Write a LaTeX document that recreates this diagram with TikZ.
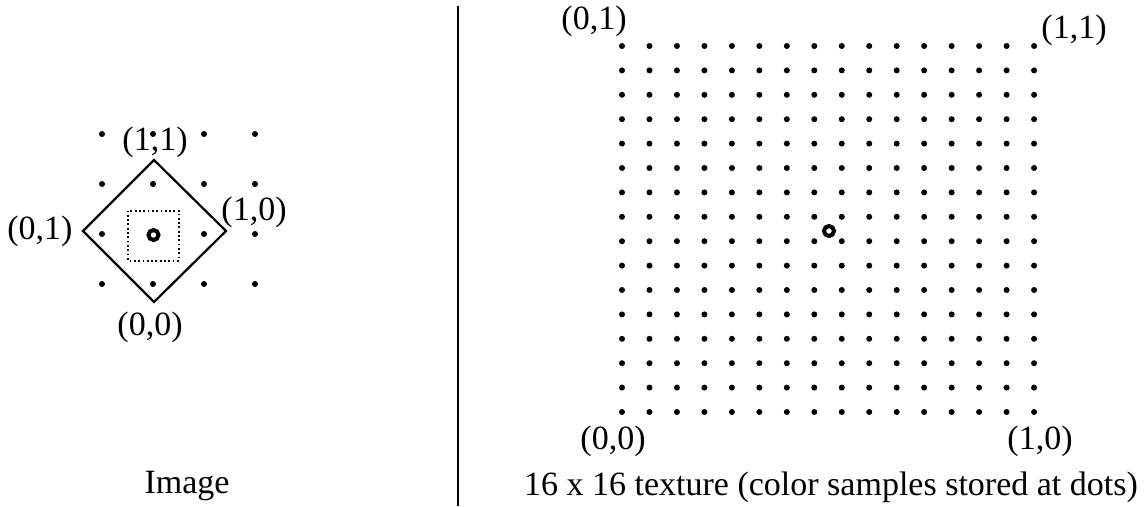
\documentclass[tikz,border=0pt]{standalone}
\usepackage{fontspec}
\setmainfont{Liberation Serif}
\begin{document}
\begin{tikzpicture}[x=1pt,y=-1pt,
  lab/.style={inner sep=0pt, font=\fontsize{34}{40}\selectfont},
  dot/.style={circle, fill=black, inner sep=0pt, minimum size=6pt},
  ring/.style={circle, draw=black, line width=4pt, inner sep=0pt, minimum size=10pt},
  edge/.style={line width=2.2pt, line join=miter},
  dotsq/.style={line width=2pt, dash pattern=on 1.8pt off 2.5pt},
  divider/.style={line width=2.6pt}
]
\useasboundingbox (0,0) rectangle (1145,506);
% ---------- left: image ----------
\foreach \i in {0,...,3}{
  \foreach \j in {0,...,3}{
    \ifnum\i=1 \ifnum\j=2 \else
      \node[dot] (l-\i-\j) at ({102+51*\i},{134+50*\j}) {};
    \fi\else
      \node[dot] (l-\i-\j) at ({102+51*\i},{134+50*\j}) {};
    \fi
  }
}
\node[lab] (lt) at (155,142) {(1,1)};
\node[lab] (ll) at (40,231) {(0,1)};
\node[lab] (lr) at (254,212) {(1,0)};
\node[lab] (lb) at (150,327) {(0,0)};
\coordinate (dt) at (154,160);
\coordinate (dr) at (226,231);
\coordinate (db) at (154,302);
\coordinate (dl) at (83,231);
\draw[edge] (dt) -- (dr) -- (db) -- (dl) -- cycle;
\draw[dotsq] (128,210.5) rectangle (179,260.5);
\node[ring] (lc) at (153.5,235) {};
\node[lab, anchor=base] (img) at (187,493) {Image};
% ---------- divider ----------
\coordinate (vt) at (458,6);
\coordinate (vb) at (458,506);
\draw[divider] (vt) -- (vb);
% ---------- right: texture ----------
\foreach \i in {0,...,15}{
  \foreach \j in {0,...,15}{
    \node[dot] (r-\i-\j) at ({622+27.47*\i},{46+24.4*\j}) {};
  }
}
\node[ring] (rc) at (829,231) {};
\node[lab] (r01) at (594,21) {(0,1)};
\node[lab] (r11) at (1074,30) {(1,1)};
\node[lab] (r00) at (613,441) {(0,0)};
\node[lab] (r10) at (1040,441) {(1,0)};
\node[lab, anchor=base] (cap) at (831,495) {16 x 16 texture (color samples stored at dots)};
\end{tikzpicture}
\end{document}
